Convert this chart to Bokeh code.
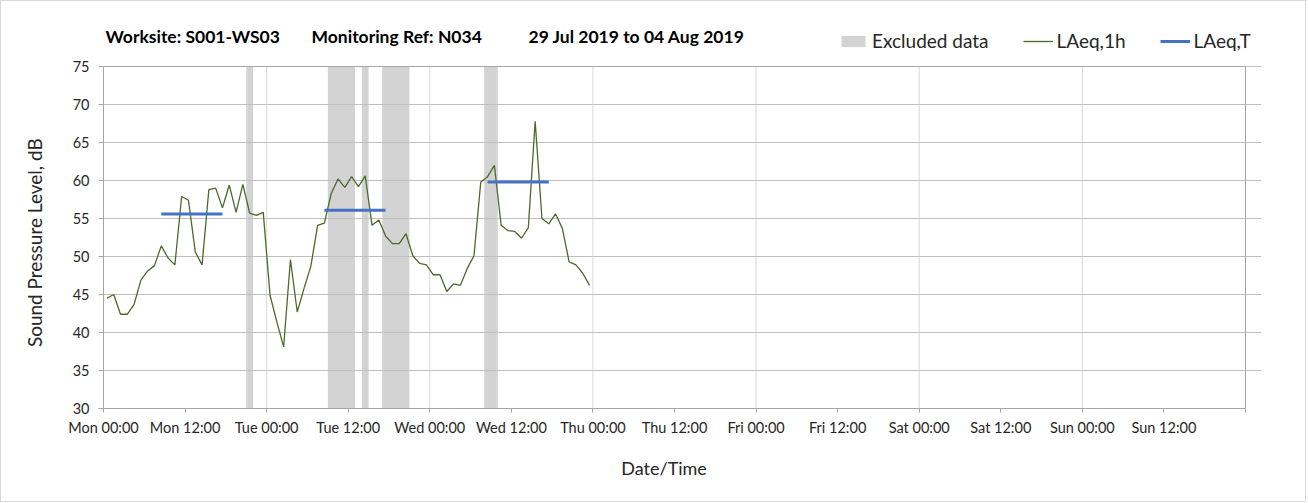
from bokeh.plotting import figure
from bokeh.models import Range1d, FixedTicker, Label, Legend, LegendItem, ColumnDataSource
from bokeh.embed import file_html
from bokeh.resources import INLINE

# ---------------- data ----------------
days = ["Mon", "Tue", "Wed", "Thu", "Fri", "Sat", "Sun"]
hour_index = list(range(72))  # hourly periods from Mon 00:00
laeq_1h = [44.5, 45.0, 42.4, 42.4, 43.7, 46.9, 48.1, 48.8, 51.4, 49.8,
           48.9, 57.9, 57.4, 50.6, 48.9, 58.8, 59.0, 56.4, 59.4, 55.8,
           59.5, 55.7, 55.4, 55.8,
           44.9, 41.4, 38.1, 49.6, 42.7, 45.8, 48.7, 54.1, 54.4, 58.3,
           60.2, 59.1, 60.5, 59.2, 60.6, 54.1, 54.8, 52.7, 51.7, 51.7,
           53.0, 50.1, 49.1, 48.9,
           47.6, 47.6, 45.4, 46.4, 46.2, 48.4, 50.1, 59.8, 60.5, 62.0,
           54.1, 53.4, 53.3, 52.4, 53.8, 67.8, 55.0, 54.3, 55.6, 53.7,
           49.3, 48.9, 47.8, 46.2]
excl_start = [21, 33, 38, 41, 56]
excl_end = [22, 37, 39, 45, 58]
period_start = [8, 32, 56]
period_end = [18, 42, 66]
laeq_t = [55.6, 56.1, 59.8]
title_site = "Worksite: S001-WS03"
title_ref = "Monitoring Ref: N034"
title_dates = "29 Jul 2019 to 04 Aug 2019"
x_title = "Date/Time"
y_title = "Sound Pressure Level, dB"

FONT = "Lato"
X_MIN, X_MAX = 0, 168
Y_MIN, Y_MAX = 30, 75

# frame is extended above / right of the data area so that the title and legend fit
FRAME_W, FRAME_H = 1158, 390
PX_PER_H = 1142 / (X_MAX - X_MIN)
PX_PER_DB = 342 / (Y_MAX - Y_MIN)

p = figure(frame_width=FRAME_W, frame_height=FRAME_H,
           x_range=Range1d(X_MIN, X_MIN + FRAME_W / PX_PER_H),
           y_range=Range1d(Y_MIN, Y_MIN + FRAME_H / PX_PER_DB),
           output_backend="svg", toolbar_location=None,
           min_border_left=102, min_border_right=44,
           min_border_top=17, min_border_bottom=93)
p.styles = {"border": "1px solid #d9d9d9"}
p.outline_line_color = None
p.background_fill_color = "white"
p.border_fill_color = "white"

# excluded data bands
excl_src = ColumnDataSource(dict(left=excl_start, right=excl_end,
                                 bottom=[Y_MIN] * len(excl_start), top=[Y_MAX] * len(excl_start)))
r_excl = p.quad(left="left", right="right", bottom="bottom", top="top", source=excl_src,
                fill_color="#d3d3d3", line_color=None, level="image")

# vertical (daily) gridlines and plot-area border
day_lines = list(range(24, X_MAX, 24))
p.segment(x0=day_lines, x1=day_lines, y0=[Y_MIN] * len(day_lines), y1=[Y_MAX] * len(day_lines),
          line_color="#d9d9d9", line_width=1, level="underlay")
p.segment(x0=[X_MAX, X_MIN], x1=[X_MAX, X_MAX], y0=[Y_MIN, Y_MAX], y1=[Y_MAX, Y_MAX],
          line_color="#a6a6a6", line_width=1)

# hourly line, plotted at middle of each hour
x_mid = [h + 0.5 for h in hour_index]
r_1h = p.line(x_mid, laeq_1h, line_color="#4a6a2a", line_width=1.3)

# LAeq,T segments
r_t = p.segment(x0=[s + 0.5 for s in period_start], x1=[e - 0.5 for e in period_end],
                y0=laeq_t, y1=laeq_t, line_color="#4472c4", line_width=3)

# axes
ticks = list(range(X_MIN, X_MAX + 1, 12))
p.xaxis.ticker = FixedTicker(ticks=ticks)
overrides = {}
for h in ticks:
    overrides[h] = "" if h >= X_MAX else f"{days[h // 24]} {h % 24:02d}:00"
p.xaxis.major_label_overrides = overrides
p.yaxis.ticker = FixedTicker(ticks=list(range(Y_MIN, Y_MAX + 1, 5)))
p.xaxis.bounds = (X_MIN, X_MAX)
p.yaxis.bounds = (Y_MIN, Y_MAX)

for ax in (p.xaxis[0], p.yaxis[0]):
    ax.axis_line_color = "#a6a6a6"
    ax.major_tick_line_color = "#a6a6a6"
    ax.minor_tick_line_color = None
    ax.major_tick_in = 0
    ax.major_label_text_font = FONT
    ax.major_label_text_font_size = "14.5px"
    ax.major_label_text_color = "#262626"
    ax.axis_label_text_font = FONT
    ax.axis_label_text_font_style = "normal"
    ax.axis_label_text_color = "#262626"

p.xaxis.axis_label_text_font_size = "18px"
p.yaxis.axis_label_text_font_size = "19px"
p.xaxis.major_tick_out = 4
p.yaxis.major_tick_out = 5
p.xaxis.major_label_standoff = 6
p.yaxis.major_label_standoff = 9
# trailing no-break spaces keep the axis titles centred on the data area (not the larger frame)
p.xaxis.axis_label = x_title + "\u00a0" * 8
p.yaxis.axis_label = y_title + "\u00a0" * 12
p.xaxis.axis_label_standoff = 18
p.yaxis.axis_label_standoff = 24

p.xgrid.visible = False
p.ygrid.grid_line_color = "#bfbfbf"
p.ygrid.bounds = (X_MIN, X_MAX)

# title parts
for xpos, txt in ((2, title_site), (208, title_ref), (425, title_dates)):
    p.add_layout(Label(x=xpos, y=372, x_units="screen", y_units="screen", text=txt,
                       text_font=FONT, text_font_size="17.5px", text_font_style="bold",
                       text_color="black", text_baseline="middle"))

legend = Legend(items=[LegendItem(label="Excluded data", renderers=[r_excl]),
                       LegendItem(label="LAeq,1h", renderers=[r_1h]),
                       LegendItem(label="LAeq,T", renderers=[r_t])],
                orientation="horizontal", location=(735, 356),
                glyph_width=30, glyph_height=14, label_standoff=4, spacing=34,
                padding=0, margin=0, border_line_color=None, background_fill_alpha=0,
                label_text_font=FONT, label_text_font_size="19px", label_text_color="#262626")
p.add_layout(legend)

open("out.html", "w").write(file_html(p, INLINE))
